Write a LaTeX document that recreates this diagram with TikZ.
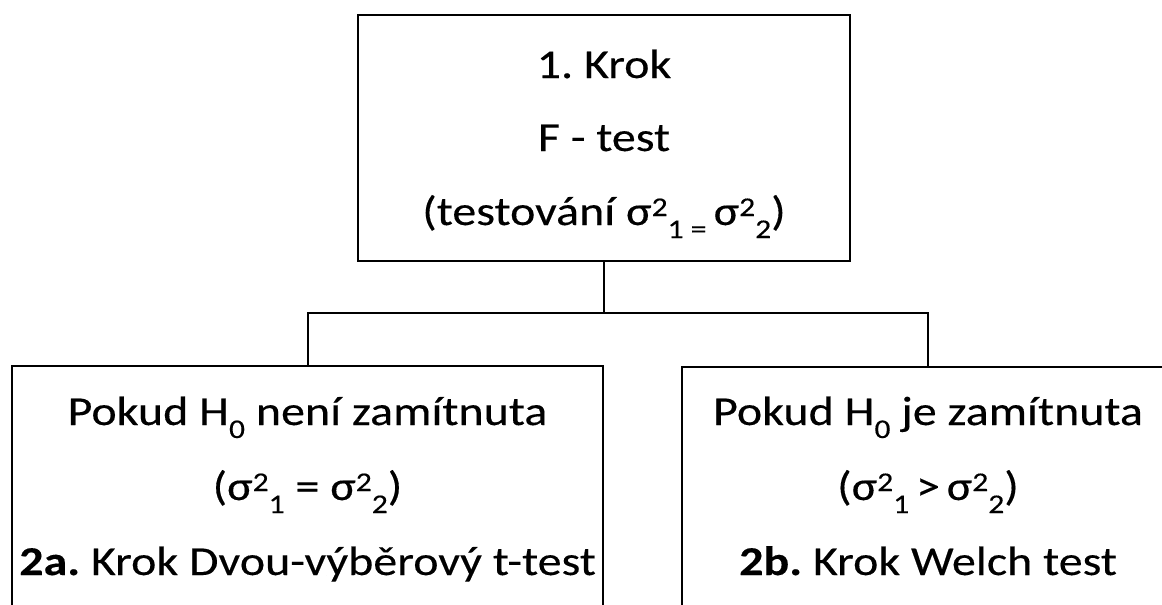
\documentclass[tikz,border=0pt]{standalone}
\usepackage{fontspec}
\setmainfont{Carlito}[FakeStretch=1.17,FakeBold=0.3]
\newcommand\lo[1]{\raisebox{-13pt}{\fontsize{27}{27}\selectfont #1}}
\newcommand\up[1]{\raisebox{9pt}{\fontsize{27}{27}\selectfont #1}}
\tikzset{
  box/.style={draw, line width=2pt, inner sep=0pt},
  txt/.style={inner sep=0pt, anchor=base, font=\fontsize{41}{41}\selectfont},
  link/.style={line width=2pt}
}
\begin{document}
\frenchspacing
\begin{tikzpicture}[x=1pt,y=-1pt]
\useasboundingbox (0,0) rectangle (1162,605);
\clip (0,0) rectangle (1162,605);
\node[box, minimum width=492pt, minimum height=246pt] (top) at (604,138) {};
\node[box, minimum width=591pt, minimum height=300pt, anchor=north] (left) at (307.5,365) {};
\node[box, minimum width=492pt, minimum height=300pt, anchor=north] (right) at (928,366) {};
\node[txt] (t1) at (604,78) {1. Krok};
\node[txt] (t2) at (604,151) {F - test};
\node[txt] (t3) at (604,225) {(testování σ\up{2}\lo{1 = }σ\up{2}\lo{2})};
\node[txt] (l1) at (307.5,425) {Pokud H\lo{0} není zamítnuta};
\node[txt] (l2) at (307.5,500) {(σ\up{2}\lo{1} = σ\up{2}\lo{2})};
\node[txt] (l3) at (307.5,575) {\textbf{2a.} Krok Dvou-výběrový t-test};
\node[txt] (r1) at (928,425) {Pokud H\lo{0} je zamítnuta};
\node[txt] (r2) at (928,500) {(σ\up{2}\lo{1}\,>\,σ\up{2}\lo{2})};
\node[txt] (r3) at (928,575) {\textbf{2b.} Krok Welch test};
\coordinate (j) at (604,313);
\draw[link] (top.south) -- (j);
\draw[link] (left.north) |- (j) -| (right.north);
\end{tikzpicture}
\end{document}
